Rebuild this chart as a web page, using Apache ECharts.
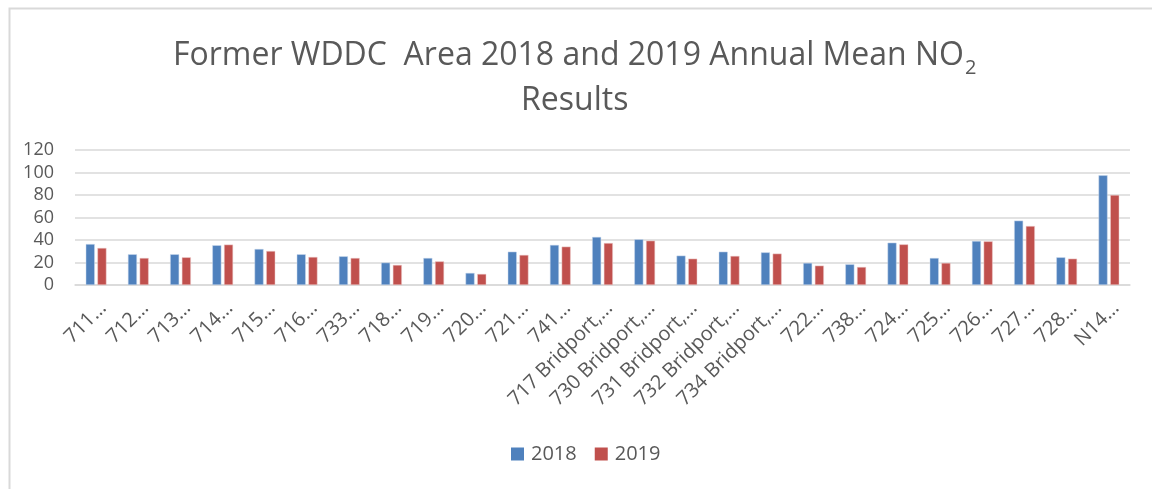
<!DOCTYPE html>
<html>
<head>
    <meta charset="utf-8">
    <title>Former WDDC NO2</title>
    <script src="https://cdn.jsdelivr.net/npm/echarts@6/dist/echarts.min.js"></script>
    <style>
        html, body { margin: 0; padding: 0; background: #fff; }
    </style>
</head>
<body>

<div id="no2Chart" style="width: 1152px;height:489px;"></div>

<script type="text/javascript">
    var sites = ['711…', '712…', '713…', '714…', '715…', '716…', '733…', '718…', '719…', '720…',
        '721…', '741…', '717 Bridport,…', '730 Bridport,…', '731 Bridport,…', '732 Bridport,…',
        '734 Bridport,…', '722…', '738…', '724…', '725…', '726…', '727…', '728…', 'N14…'];
    var mean2018 = [36.4, 27.3, 27.3, 35.3, 32.0, 27.3, 25.5, 19.9, 24.0, 10.7,
        29.6, 35.6, 42.7, 40.6, 26.1, 29.6, 29.0, 19.6, 18.4, 37.6, 24.0, 39.1, 57.2, 24.6, 97.5];
    var mean2019 = [32.9, 24.0, 24.6, 35.9, 30.2, 24.9, 24.0, 17.8, 21.0, 9.8,
        26.7, 34.1, 37.3, 39.4, 23.4, 25.8, 27.9, 17.2, 16.0, 36.1, 19.6, 38.8, 52.4, 23.4, 80.0];
    var yTicks = [0, 20, 40, 60, 80, 100, 120];

    var textFont = 'Open Sans';
    var grey = '#595959';

    var chart = echarts.init(document.getElementById('no2Chart'));
    chart.setOption({
        animation: false,
        backgroundColor: '#fff',
        graphic: [{
            type: 'rect',
            left: 7, top: 6,
            shape: { width: 1160, height: 500 },
            style: { fill: 'none', stroke: '#d9d9d9', lineWidth: 2 }
        }],
        title: {
            text: '{a|Former WDDC  Area 2018 and 2019 Annual Mean NO}{s|2}\n{a|Results}',
            left: 168,
            top: 28,
            textStyle: {
                fontWeight: 'normal',
                rich: {
                    a: { fontFamily: textFont, fontSize: 32, fontWeight: 'normal', color: grey, lineHeight: 45, align: 'center' },
                    s: { fontFamily: textFont, fontSize: 20, fontWeight: 'normal', color: grey, lineHeight: 45, verticalAlign: 'bottom', padding: [0, 0, 0, 1] }
                }
            }
        },
        legend: {
            bottom: 20,
            left: 506,
            itemWidth: 13,
            itemHeight: 13,
            itemGap: 18,
            icon: 'rect',
            itemStyle: { borderWidth: 0 },
            textStyle: { fontFamily: textFont, fontSize: 20, color: grey, padding: [0, 0, 0, 2] }
        },
        grid: { left: 75, right: 22, top: 150, bottom: 204, containLabel: false },
        xAxis: {
            type: 'category',
            data: sites,
            axisLine: { lineStyle: { color: '#d9d9d9', width: 1.5 } },
            axisTick: { show: false },
            axisLabel: {
                rotate: 45,
                interval: 0,
                margin: 13,
                verticalAlign: 'top',
                fontFamily: textFont,
                fontSize: 20,
                color: grey
            }
        },
        yAxis: {
            type: 'value',
            min: yTicks[0],
            max: yTicks[yTicks.length - 1],
            interval: 20,
            axisLine: { show: false },
            axisTick: { show: false },
            splitLine: { lineStyle: { color: '#d9d9d9', width: 1.5 } },
            axisLabel: { fontFamily: textFont, fontSize: 18, color: grey, margin: 21 }
        },
        series: [{
            name: '2018',
            type: 'bar',
            data: mean2018,
            barWidth: 9,
            barGap: '30%',
            itemStyle: { color: '#4F81BD', borderColor: '#c9d8ec', borderWidth: 0.5 }
        }, {
            name: '2019',
            type: 'bar',
            data: mean2019,
            barWidth: 9,
            itemStyle: { color: '#C0504D', borderColor: '#eccaca', borderWidth: 0.5 }
        }]
    });
</script>
</body>
</html>
